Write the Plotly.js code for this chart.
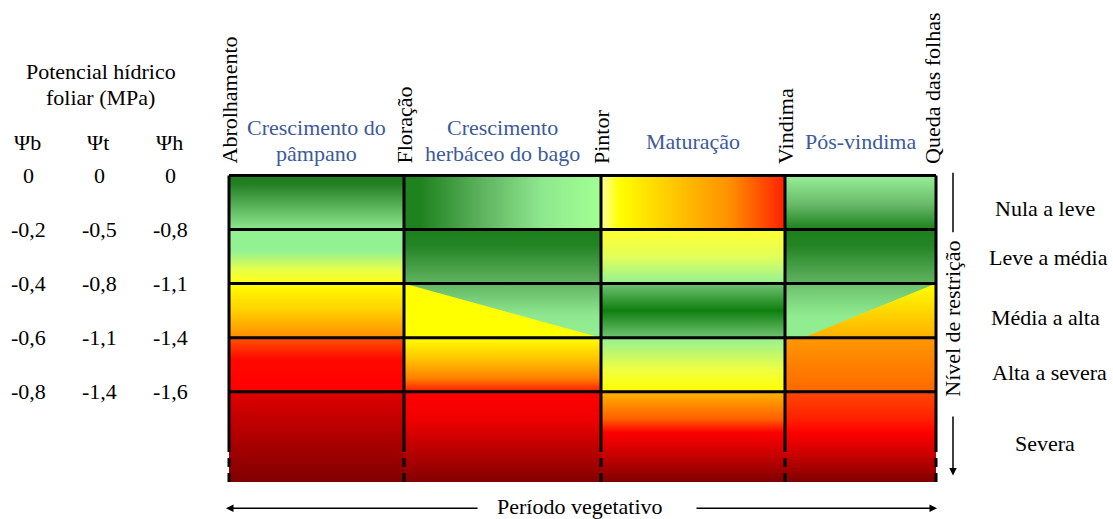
<!DOCTYPE html>
<html><head><meta charset="utf-8">
<script src="https://cdn.plot.ly/plotly-3.0.1.min.js"></script>
<style>html,body{margin:0;padding:0;background:#fff}#chart{width:1113px;height:519px}</style>
</head><body><div id="chart"></div>
<script>
// ---------- data ----------
const stageNames = ["Abrolhamento", "Floração", "Pintor", "Vindima", "Queda das folhas"];
const stagePos = [0, 175, 372, 556, 707];            // position of each stage along the vegetative period
const phaseLine1 = ["Crescimento do", "Crescimento", "Maturação", "Pós-vindima"];
const phaseLine2 = ["pâmpano", "herbáceo do bago", "", ""];
const levelNames = ["Nula a leve", "Leve a média", "Média a alta", "Alta a severa", "Severa"];
const levelEdges = [0, 1, 2, 3, 4, 5.67];              // restriction level bands (top to bottom)
const psiHeaders = ["Ψb", "Ψt", "Ψh"];
const psiB = ["0", "-0,2", "-0,4", "-0,6", "-0,8"];
const psiT = ["0", "-0,5", "-0,8", "-1,1", "-1,4"];
const psiH = ["0", "-0,8", "-1,1", "-1,4", "-1,6"];

// ---------- style: gradient of each cell [row][phase] ----------
const cellFills = [
  [['vertical', [[0,'#1b7f1b'],[0.15,'#237f23'],[1,'#8fe88f']]],
   ['horizontal', [[0,'#1e821e'],[0.08,'#1e821e'],[0.4,'#5fb45f'],[0.7,'#8ee88e'],[1,'#a2ff92']]],
   ['horizontal', [[0,'#ffffa0'],[0.1,'#ffff00'],[0.35,'#ffd000'],[0.7,'#ff9000'],[1,'#ff2000']]],
   ['vertical', [[0,'#98f098'],[0.55,'#66b866'],[1,'#1b801b']]]],
  [['vertical', [[0,'#92f292'],[0.4,'#92f292'],[0.75,'#e8ff48'],[1,'#ffff10']]],
   ['vertical', [[0,'#1b7f1b'],[0.3,'#248424'],[1,'#62b462']]],
   ['vertical', [[0,'#ffff30'],[0.5,'#e2ff5a'],[1,'#94f094']]],
   ['vertical', [[0,'#1b7f1b'],[0.3,'#248424'],[1,'#62b462']]]],
  [['vertical', [[0,'#ffff00'],[0.5,'#ffd000'],[1,'#ff8c00']]],
   ['vertical', [[0,'#62b662'],[0.6,'#8fe88f'],[1,'#92f092']]],
   ['vertical', [[0,'#72c472'],[0.5,'#0f7f0f'],[1,'#72c472']]],
   ['vertical', [[0,'#6cc06c'],[0.6,'#90ec90'],[1,'#90ee90']]]],
  [['vertical', [[0,'#ff5400'],[0.4,'#ff0800'],[1,'#ff0000']]],
   ['vertical', [[0,'#ffff00'],[0.4,'#ffc400'],[0.75,'#ff8000'],[1,'#ff1a00']]],
   ['vertical', [[0,'#94f094'],[0.6,'#f0ff40'],[1,'#ffff00']]],
   ['vertical', [[0,'#ff9800'],[1,'#ff6800']]]],
  [['vertical', [[0,'#e00000'],[0.5,'#b00000'],[1,'#800000']]],
   ['vertical', [[0,'#ff0000'],[0.3,'#f00000'],[1,'#840000']]],
   ['vertical', [[0,'#ffb400'],[0.3,'#ff6000'],[0.45,'#ff0000'],[0.7,'#c80000'],[1,'#800000']]],
   ['vertical', [[0,'#ff4800'],[0.3,'#ff2000'],[0.45,'#ff0000'],[0.7,'#c80000'],[1,'#800000']]]]
];
// overlaid triangles in the "Média a alta" band: [phase, vertices as [x, level]...]
const triangles = [
  {phase: 1, pts: [[stagePos[1], levelEdges[2]], [stagePos[2], levelEdges[3]], [stagePos[1], levelEdges[3]]],
   fill: [[0,'#ffff00'],[1,'#ffff00']]},
  {phase: 3, pts: [[stagePos[3] + 18, levelEdges[3]], [stagePos[4], levelEdges[2]], [stagePos[4], levelEdges[3]]],
   fill: [[0,'#ffff00'],[1,'#ffb000']]}
];
const solidEnd = 4.95, dashEnd = 5.76;

// ---------- geometry helpers (layout only) ----------
const W = 1113, H = 519;
const X0PX = 229, Y0PX = 175.5, PXPERLEVEL = 54.06;
const xRange = [-X0PX, W - X0PX];
const yRange = [(H - Y0PX) / PXPERLEVEL, -Y0PX / PXPERLEVEL];
const px = p => p / W;
const py = p => 1 - p / H;

const traces = [];
// cells
for (let r = 0; r < 5; r++) {
  for (let c = 0; c < 4; c++) {
    const x0 = stagePos[c], x1 = stagePos[c + 1], y0 = levelEdges[r], y1 = levelEdges[r + 1];
    const [type, cs] = cellFills[r][c];
    traces.push({
      type: 'scatter', mode: 'lines', x: [x0, x1, x1, x0, x0], y: [y0, y0, y1, y1, y0],
      fill: 'toself', line: {width: 0}, hoverinfo: 'skip',
      fillgradient: {type: type, colorscale: cs,
        start: type === 'vertical' ? y0 : x0, stop: type === 'vertical' ? y1 : x1}
    });
  }
}
triangles.forEach(t => {
  const xs = t.pts.map(p => p[0]).concat([t.pts[0][0]]);
  const ys = t.pts.map(p => p[1]).concat([t.pts[0][1]]);
  traces.push({
    type: 'scatter', mode: 'lines', x: xs, y: ys, fill: 'toself', line: {width: 0}, hoverinfo: 'skip',
    fillgradient: {type: 'vertical', colorscale: t.fill, start: Math.min(...ys), stop: Math.max(...ys)}
  });
});
// horizontal grid lines
const hx = [], hy = [];
for (let i = 0; i < 5; i++) { hx.push(stagePos[0], stagePos[4], null); hy.push(levelEdges[i], levelEdges[i], null); }
traces.push({type: 'scatter', mode: 'lines', x: hx, y: hy, line: {color: '#000', width: 3}, hoverinfo: 'skip'});
// vertical lines (solid then dashed)
const vx = [], vy = [], dx = [], dy = [];
stagePos.forEach(s => { vx.push(s, s, null); vy.push(levelEdges[0], solidEnd, null); dx.push(s, s, null); dy.push(solidEnd, dashEnd, null); });
traces.push({type: 'scatter', mode: 'lines', x: vx, y: vy, line: {color: '#000', width: 3}, hoverinfo: 'skip'});
traces.push({type: 'scatter', mode: 'lines', x: dx, y: dy, line: {color: '#000', width: 3, dash: '9px,6px'}, hoverinfo: 'skip'});
// "Nível de restrição" upper bar
const nivelX = stagePos[4] + 17;
traces.push({type: 'scatter', mode: 'lines', x: [nivelX, nivelX], y: [-0.05, 1.05], line: {color: '#000', width: 1.5}, hoverinfo: 'skip'});

const serif = '"Liberation Serif", "Times New Roman", Times, serif';
const F = {family: serif, size: 22, color: '#000'};
const BLUE = {family: serif, size: 22, color: '#3c5a9c'};
const ann = [];
const txt = (text, x, y, o) => ann.push(Object.assign({text, x, y, xref: 'paper', yref: 'paper', showarrow: false,
  xanchor: 'center', yanchor: 'middle', font: F}, o || {}));

txt('Potencial hídrico', px(101), py(72));
txt('foliar (MPa)', px(100), py(98));
const psiCols = [psiB, psiT, psiH], psiX = [28, 99, 170];
psiHeaders.forEach((h, i) => txt(h, px(psiX[i] - 1), py(142)));
psiCols.forEach((col, i) => col.forEach((v, r) => ann.push({text: v, x: px(psiX[i]), y: levelEdges[r], xref: 'paper', yref: 'y',
  showarrow: false, xanchor: 'center', yanchor: 'middle', font: F})));

stageNames.forEach((s, i) => ann.push({text: s, x: stagePos[i] - (i === 4 ? 4 : 0), y: py(166), xref: 'x', yref: 'paper',
  showarrow: false, textangle: -90, xanchor: 'center', yanchor: 'bottom', font: F}));
phaseLine1.forEach((p, i) => {
  const xm = (stagePos[i] + stagePos[i + 1]) / 2;
  if (phaseLine2[i]) {
    ann.push({text: p, x: xm, y: py(127), xref: 'x', yref: 'paper', showarrow: false, font: BLUE, xanchor: 'center', yanchor: 'middle'});
    ann.push({text: phaseLine2[i], x: xm, y: py(153), xref: 'x', yref: 'paper', showarrow: false, font: BLUE, xanchor: 'center', yanchor: 'middle'});
  } else {
    ann.push({text: p, x: xm, y: py(141), xref: 'x', yref: 'paper', showarrow: false, font: BLUE, xanchor: 'center', yanchor: 'middle'});
  }
});
const levelLabelY = [208, 257, 317, 372, 443], levelLabelX = [1045, 1048, 1045, 1049, 1045];
levelNames.forEach((l, i) => txt(l, px(levelLabelX[i]), py(levelLabelY[i])));
ann.push({text: 'Nível de restrição', x: nivelX, y: 2.65, xref: 'x', yref: 'y', showarrow: false, textangle: -90,
  xanchor: 'center', yanchor: 'middle', font: F});
ann.push({text: '', x: nivelX, y: 5.55, ax: nivelX, ay: 4.43, xref: 'x', yref: 'y', axref: 'x', ayref: 'y',
  showarrow: true, arrowhead: 2, arrowsize: 1, arrowwidth: 1.5, arrowcolor: '#000'});
// período vegetativo
const perY = 6.156;
ann.push({text: '', x: stagePos[0] - 3, y: perY, ax: 250, ay: perY, xref: 'x', yref: 'y', axref: 'x', ayref: 'y',
  showarrow: true, arrowhead: 2, arrowsize: 1, arrowwidth: 1.5, arrowcolor: '#000'});
ann.push({text: '', x: stagePos[4] + 1, y: perY, ax: 466, ay: perY, xref: 'x', yref: 'y', axref: 'x', ayref: 'y',
  showarrow: true, arrowhead: 2, arrowsize: 1, arrowwidth: 1.5, arrowcolor: '#000'});
txt('Período vegetativo', px(580), py(506));

const layout = {
  width: W, height: H, margin: {l: 0, r: 0, t: 0, b: 0, pad: 0},
  paper_bgcolor: '#fff', plot_bgcolor: '#fff', showlegend: false,
  xaxis: {range: xRange, visible: false, fixedrange: true},
  yaxis: {range: yRange, visible: false, fixedrange: true},
  annotations: ann
};
Plotly.newPlot('chart', traces, layout, {staticPlot: true, displayModeBar: false});
</script>
</body></html>
